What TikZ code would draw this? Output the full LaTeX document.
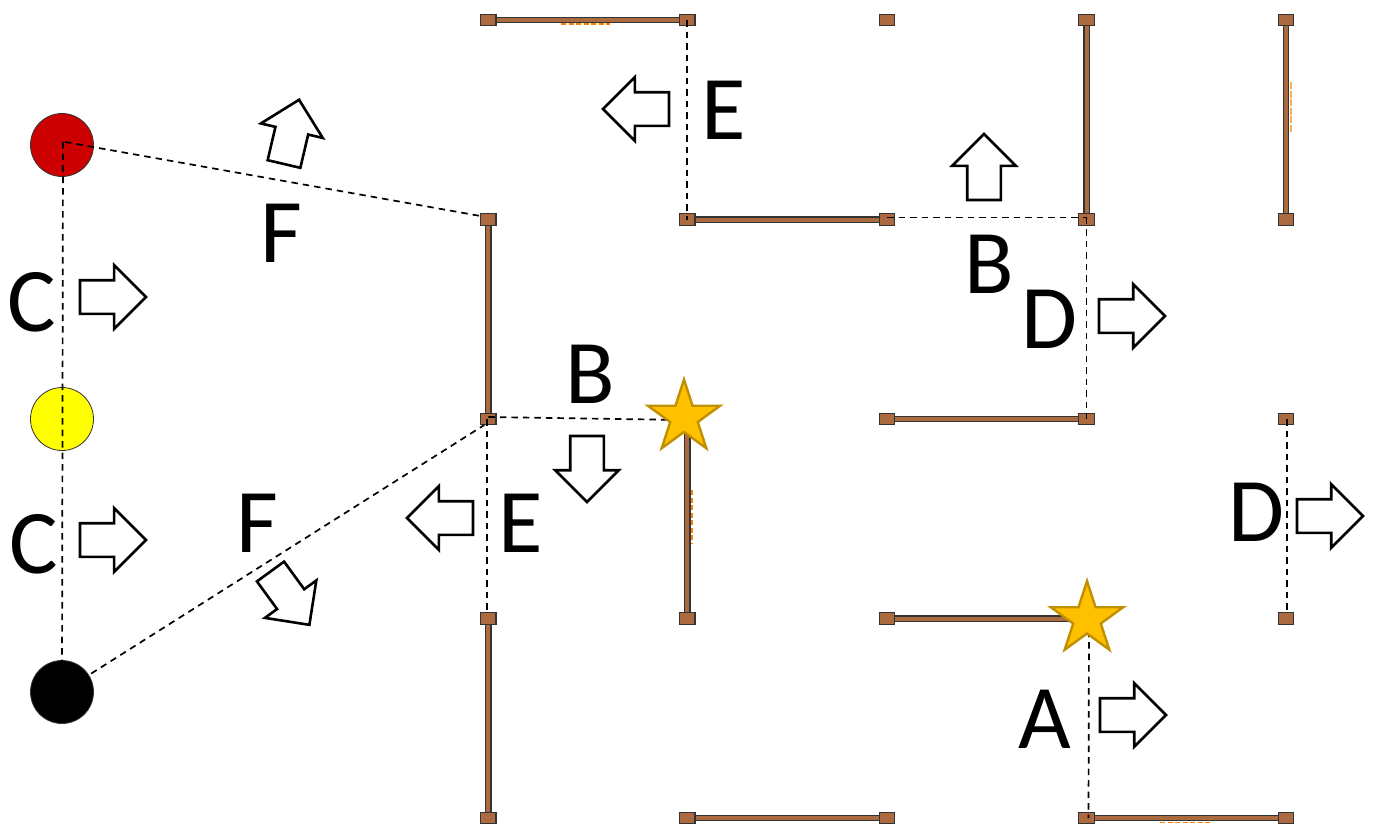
\documentclass[tikz,border=0pt]{standalone}
\usepackage{fontspec}
\setmainfont{Carlito}
\usetikzlibrary{shapes.geometric,shapes.arrows}
\pgfdeclarelayer{wallback}
\pgfdeclarelayer{front}
\pgfsetlayers{wallback,main,front}
\definecolor{wallbrown}{HTML}{AB6A40}
\definecolor{walledge}{HTML}{333333}
\definecolor{stargold}{HTML}{FFC000}
\definecolor{staredge}{HTML}{BF9000}
\definecolor{markred}{HTML}{CC0000}
\definecolor{markyellow}{HTML}{FFFF00}
\definecolor{dashorange}{HTML}{FF8000}
\definecolor{dashpale}{HTML}{FFAA55}
\tikzset{
  post/.style={rectangle,draw=walledge,fill=wallbrown,line width=1.3pt,minimum width=15.5pt,minimum height=11.5pt,inner sep=0pt,outer sep=0pt},
  wall/.style={draw=walledge,line width=1.3pt,double=wallbrown,double distance=4pt},
  dashline/.style={draw=black,line width=1.7pt,dash pattern=on 6.5pt off 5pt},
  marker/.style={circle,draw=black!80,line width=0.8pt,minimum size=63pt,inner sep=0pt,outer sep=0pt},
  goldstar/.style={star,star points=5,star point ratio=2.618,draw=staredge,fill=stargold,line width=2.4pt,minimum size=76pt,inner sep=0pt,outer sep=0pt},
  blockarrow/.style={single arrow,draw=black,fill=white,line width=2.6pt,minimum height=66pt,inner xsep=0pt,inner ysep=15.5pt,single arrow head extend=15pt,single arrow head indent=0pt,outer sep=0pt,anchor=tail},
  letter/.style={font=\fontsize{91}{91}\selectfont,inner sep=0pt,outer sep=0pt,anchor=base,text=black},
  orangedash/.style={draw=dashorange,line width=1.6pt,dash pattern=on 5pt off 2.5pt},
  paledash/.style={draw=dashpale,line width=1.8pt,dash pattern=on 7pt off 1.5pt},
}
\begin{document}
\begin{tikzpicture}[x=1pt,y=-1pt]
\useasboundingbox (0,0) rectangle (1376,825);
% posts
\node[post] (p11) at (488.3,20) {};
\node[post] (p12) at (687.3,20) {};
\node[post] (p13) at (887,20) {};
\node[post] (p14) at (1086.5,20) {};
\node[post] (p15) at (1286,20) {};
\node[post] (p22) at (687.3,219.5) {};
\node[post] (p21) at (488.3,219.5) {};
\node[post] (p23) at (887,219.5) {};
\node[post] (p24) at (1086.5,219.5) {};
\node[post] (p25) at (1286,219.5) {};
\node[post] (p31) at (488.3,419) {};
\node[post] (p33) at (887,419) {};
\node[post] (p34) at (1086.5,419) {};
\node[post] (p35) at (1286,419) {};
\node[post] (p41) at (488.3,618.5) {};
\node[post] (p42) at (687.3,618.5) {};
\node[post] (p43) at (887,618.5) {};
\node[post] (p45) at (1286,618.5) {};
\node[post] (p51) at (488.3,818) {};
\node[post] (p52) at (687.3,818) {};
\node[post] (p53) at (887,818) {};
\node[post] (p54) at (1086.5,818) {};
\node[post] (p55) at (1286,818) {};
\coordinate (w1) at (687.3,419);
\coordinate (w2) at (1086.5,618.5);
% circles
\node[marker,fill=markred] (red) at (62,145) {};
\node[marker,fill=markyellow] (yel) at (62,419) {};
\node[marker,fill=black] (blk) at (62,692) {};
% stars
\begin{pgfonlayer}{front}
\node[goldstar] (s1) at (684,417.5) {};
\node[goldstar] (s2) at (1087,619) {};
\end{pgfonlayer}
% walls
\begin{pgfonlayer}{wallback}
\draw[wall] (p11) -- (p12);
\draw[wall] (p22) -- (p23);
\draw[wall] (p14) -- (p24);
\draw[wall] (p15) -- (p25);
\draw[wall] (p21) -- (p31);
\draw[wall] (p33) -- (p34);
\draw[wall] (w1) -- (p42);
\draw[wall] (p43) -- (w2);
\draw[wall] (p41) -- (p51);
\draw[wall] (p52) -- (p53);
\draw[wall] (p54) -- (p55);
\draw[orangedash] (561,24) -- (610,24);
\draw[paledash] (1291,82) -- (1291,132);
\draw[orangedash] (691.7,490) -- (691.7,543);
\draw[orangedash] (1160,822.3) -- (1212,822.3);
\end{pgfonlayer}
% dashed lines
\draw[dashline] ([xshift=3pt,yshift=3pt]red.center) -- ([xshift=-5pt,yshift=3pt]p21.center);
\draw[dashline] ([xshift=1pt,yshift=3pt]red.center) -- (blk.center);
\draw[dashline] (blk.center) -- ([xshift=-4pt,yshift=-6pt]p31.center);
\draw[dashline] ([yshift=2pt]p31.center) -- ([yshift=-2.5pt]s1.center);
\draw[dashline] ([xshift=-1pt]p31.center) -- ([xshift=-1pt,yshift=6pt]p41.center);
\draw[dashline] (p12.center) -- (p22.center);
\draw[dashline] ([yshift=2pt]p23.center) -- ([yshift=2pt]p24.center);
\draw[dashline] ([yshift=2pt]p24.center) -- (p34.center);
\draw[dashline] ([xshift=1pt]p35.center) -- ([xshift=1pt,yshift=6pt]p45.center);
\draw[dashline] ([xshift=2pt]s2.center) -- ([xshift=2pt]p54.center);
% block arrows
\coordinate (a1) at (80,297);
\coordinate (a2) at (80,540);
\coordinate (a3) at (984,200);
\coordinate (a4) at (669,109);
\coordinate (a5) at (473,518);
\coordinate (a6) at (587,436);
\coordinate (a7) at (1099,316);
\coordinate (a8) at (1297,516);
\coordinate (a9) at (1100,715);
\coordinate (a10) at (284,164);
\coordinate (a11) at (270.5,571.5);
\node[blockarrow] (ar1) at (a1) {};
\node[blockarrow] (ar2) at (a2) {};
\node[blockarrow,rotate=90] (ar3) at (a3) {};
\node[blockarrow,rotate=180] (ar4) at (a4) {};
\node[blockarrow,rotate=180] (ar5) at (a5) {};
\node[blockarrow,rotate=-90] (ar6) at (a6) {};
\node[blockarrow] (ar7) at (a7) {};
\node[blockarrow] (ar8) at (a8) {};
\node[blockarrow] (ar9) at (a9) {};
\node[blockarrow,rotate=76.8] (ar10) at (a10) {};
\node[blockarrow,rotate=-53.9] (ar11) at (a11) {};
% letters
\node[letter] (lc1) at (32,331) {C};
\node[letter] (lc2) at (34,573) {C};
\node[letter] (lf1) at (281,262) {F};
\node[letter] (lf2) at (257,552) {F};
\node[letter] (le1) at (724,139) {E};
\node[letter] (le2) at (521,552) {E};
\node[letter] (lb1) at (989,293) {B};
\node[letter] (lb2) at (590,403) {B};
\node[letter] (ld1) at (1049,348) {D};
\node[letter] (ld2) at (1256,541) {D};
\node[letter] (la) at (1045,748) {A};
\end{tikzpicture}
\end{document}
